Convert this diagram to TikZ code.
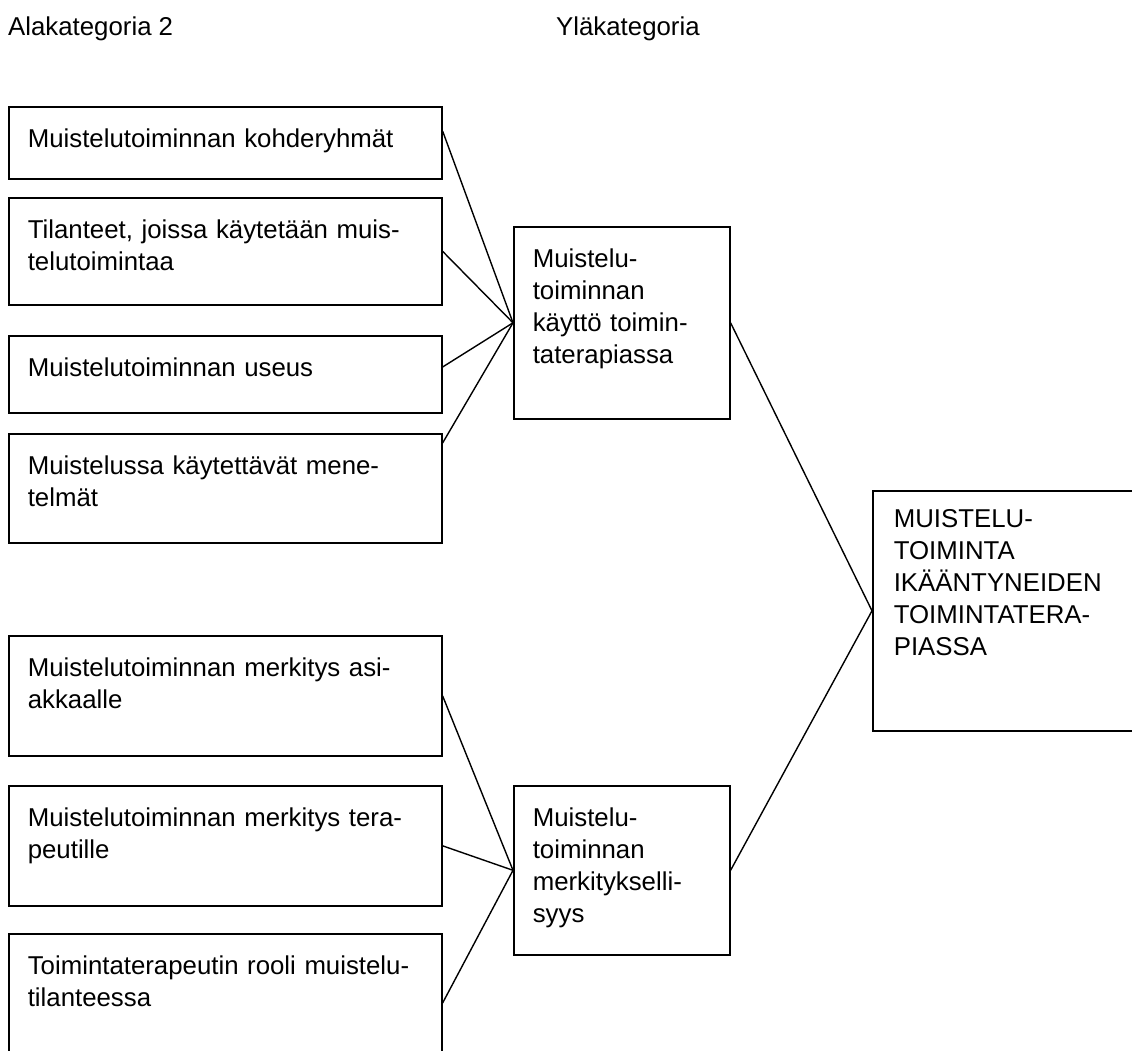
\documentclass[tikz,border=0pt]{standalone}
\usepackage{fontspec}
\setmainfont{Liberation Sans}
\usetikzlibrary{calc}

\begin{document}
\begin{tikzpicture}[x=1pt, y=-1pt]
        \tikzstyle{every node}=[font=\fontsize{25.8}{32}\selectfont]
        \tikzstyle{catbox}=[draw, line width=1.6pt, anchor=north west, align=left,
                            inner xsep=19pt, inner ysep=12pt, text height=29pt]
        \tikzstyle{link}=[line width=1.4pt]

        \useasboundingbox (0,0) rectangle (1132,1050);
        \clip (0,0) rectangle (1132,1050);

        \node   (ala)  [anchor=base west, inner sep=0pt] at (8,35)   {Alakategoria 2};
        \node   (yla)  [anchor=base west, inner sep=0pt] at (556,35) {Yläkategoria};

        % alakategoriat
        \node   (b1)   [catbox, text width=395pt, text depth=19pt] at (8,106) {Muistelutoiminnan kohderyhmät};
        \node   (b2)   [catbox, text width=395pt, text depth=54pt] at (8,197) {Tilanteet, joissa käytetään muis-\\telutoimintaa};
        \node   (b3)   [catbox, text width=395pt, text depth=24pt] at (8,335) {Muistelutoiminnan useus};
        \node   (b4)   [catbox, text width=395pt, text depth=56pt] at (8,433) {Muistelussa käytettävät mene-\\telmät};
        \node   (b5)   [catbox, text width=395pt, text depth=67pt] at (8,635) {Muistelutoiminnan merkitys asi-\\akkaalle};
        \node   (b6)   [catbox, text width=395pt, text depth=67pt] at (8,785) {Muistelutoiminnan merkitys tera-\\peutille};
        \node   (b7)   [catbox, text width=395pt, text depth=77pt] at (8,933) {Toimintaterapeutin rooli muistelu-\\tilanteessa};

        % yläkategoriat
        \node   (kaytto)    [catbox, text width=178pt, text depth=139pt] at (513,226) {Muistelu-\\toiminnan\\käyttö toimin-\\taterapiassa};
        \node   (merkitys)  [catbox, text width=178pt, text depth=116pt] at (513,785) {Muistelu-\\toiminnan\\merkitykselli-\\syys};

        \node   (main) [catbox, inner xsep=21pt, text width=260pt, text height=25pt, text depth=191pt] at (872,490)
                {MUISTELU-\\TOIMINTA\\IKÄÄNTYNEIDEN\\TOIMINTATERA-\\PIASSA};

        \draw[link] ($(b1.north east)+(0,25)$) -- (kaytto.west);
        \draw[link] (b2.east) -- (kaytto.west);
        \draw[link] ($(b3.north east)+(0,32)$) -- (kaytto.west);
        \draw[link] ($(b4.north east)+(0,10)$) -- (kaytto.west);

        \draw[link] (b5.east) -- (merkitys.west);
        \draw[link] (b6.east) -- (merkitys.west);
        \draw[link] ($(b7.north east)+(0,70)$) -- (merkitys.west);

        \draw[link] (kaytto.east) -- (main.west);
        \draw[link] (merkitys.east) -- (main.west);

    \end{tikzpicture}
\end{document}
